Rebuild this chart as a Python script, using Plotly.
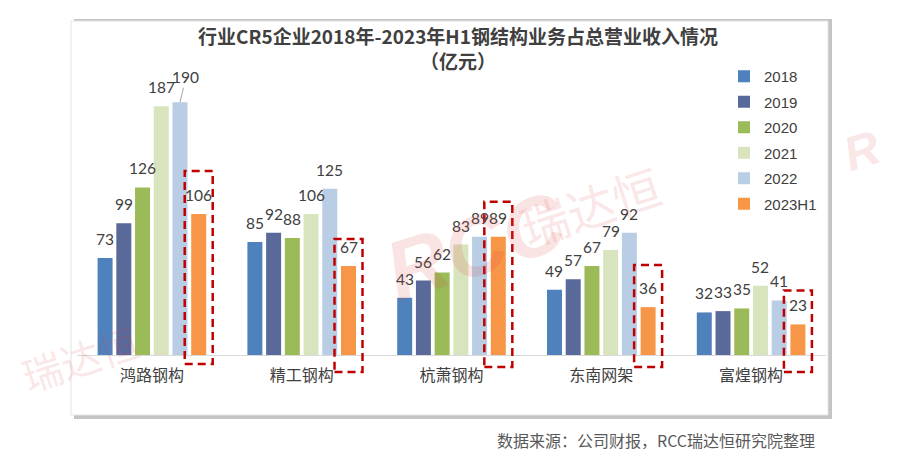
import plotly.graph_objects as go

# ---------------- data ----------------
categories = ["鸿路钢构", "精工钢构", "杭萧钢构", "东南网架", "富煌钢构"]
series_names = ["2018", "2019", "2020", "2021", "2022", "2023H1"]
values_2018 = [73, 85, 43, 49, 32]
values_2019 = [99, 92, 56, 57, 33]
values_2020 = [126, 88, 62, 67, 35]
values_2021 = [187, 106, 83, 79, 52]
values_2022 = [190, 125, 89, 92, 41]
values_2023h1 = [106, 67, 89, 36, 23]
series_values = [values_2018, values_2019, values_2020, values_2021, values_2022, values_2023h1]

title_text = "行业CR5企业2018年-2023年H1钢结构业务占总营业收入情况<br>（亿元）"
source_text = "数据来源：公司财报，RCC瑞达恒研究院整理"

# ---------------- style ----------------
colors = ["#4F81BD", "#58699A", "#9BBB59", "#D7E4BD", "#B9CDE5", "#F79646"]
TXT = "#404040"
CJK = "Noto Sans CJK SC"
NUM = "Lato"

W_PAGE, H_PAGE = 900, 460
L, R, T, B = 77, 74, 89, 105
PW = W_PAGE - L - R
PH = H_PAGE - T - B
YMAX = 200
BASE = H_PAGE - B
ppu = PH / YMAX

BARGAP, GROUPGAP = 0.25, 0.2
nser = len(series_names)
slot = (1 - BARGAP) / nser


def off(si):
    return -(1 - BARGAP) / 2 + slot * (si + 0.5)


def px_x(p):
    return (p - L) / PW


def px_y(p):
    return (BASE - p) / PH


fig = go.Figure()
for si, (name, vals) in enumerate(zip(series_names, series_values)):
    fig.add_trace(go.Bar(
        x=categories, y=vals, name=name, legendgroup=name,
        marker=dict(color=colors[si], line=dict(width=0)),
        hoverinfo="skip",
    ))

annotations = []
# value labels
for si, vals in enumerate(series_values):
    for ci, v in enumerate(vals):
        xpos = ci + off(si)
        if ci == 0 and si == 4:
            annotations.append(dict(
                x=xpos, y=v, xref="x", yref="y", text=str(v),
                showarrow=True, arrowhead=0, arrowwidth=1, arrowcolor="#A6A6A6",
                ax=6, ay=-25, standoff=0,
                font=dict(family=NUM, size=15.5, color=TXT)))
        else:
            annotations.append(dict(
                x=xpos, y=v, xref="x", yref="y", text=str(v),
                showarrow=False, yanchor="middle", yshift=19,
                font=dict(family=NUM, size=15.5, color=TXT)))

# source
annotations.append(dict(
    x=px_x(817), y=px_y(440), xref="paper", yref="paper", xanchor="right", yanchor="middle",
    text=source_text, showarrow=False, font=dict(family=CJK, size=16, color="#595959")))

# watermarks
wm = "rgba(222,70,70,0.15)"
for (cx, cy, txt, sz, fam) in [(476, 246, "<b><i>RCC</i></b>", 84, "Liberation Sans"),
                               (590, 205, "瑞达恒", 48, CJK),
                               (80, 358, "瑞达恒", 40, CJK),
                               (862, 150, "<b><i>R</i></b>", 48, "Liberation Sans")]:
    annotations.append(dict(
        x=px_x(cx), y=px_y(cy), xref="paper", yref="paper", text=txt, showarrow=False,
        textangle=-18, font=dict(family=fam, size=sz, color=wm), xanchor="center", yanchor="middle"))

shapes = []
# chart frame with shadow
shapes.append(dict(type="rect", xref="paper", yref="paper", layer="below",
                   x0=px_x(74), x1=px_x(832), y0=px_y(19), y1=px_y(419),
                   fillcolor="#C4C4C4", line=dict(width=0)))
shapes.append(dict(type="rect", xref="paper", yref="paper", layer="below",
                   x0=px_x(71), x1=px_x(828), y0=px_y(21), y1=px_y(415),
                   fillcolor="white", line=dict(color="#E4E4E4", width=1)))

# red dashed highlight boxes around 2023H1 bars
box_top_pad = [43, 27, 35, 42, 34]
box_bottom_pad = [9, 17, 12, 12, 17]
half_w = 14 / PW * len(categories)
for ci, v in enumerate(values_2023h1):
    xc = ci + off(nser - 1)
    shapes.append(dict(type="rect", xref="x", yref="paper", layer="above",
                       x0=xc - half_w, x1=xc + half_w,
                       y0=-box_bottom_pad[ci] / PH, y1=(v * ppu + box_top_pad[ci]) / PH,
                       line=dict(color="#C00000", width=2.5, dash="8px,5px"),
                       fillcolor="rgba(0,0,0,0)"))

fig.update_layout(
    width=W_PAGE, height=H_PAGE, autosize=False,
    margin=dict(l=L, r=R, t=T, b=B, pad=0),
    paper_bgcolor="white", plot_bgcolor="rgba(0,0,0,0)",
    barmode="group", bargap=BARGAP, bargroupgap=GROUPGAP,
    title=dict(text=title_text, xref="container", yref="container",
               x=458 / W_PAGE, xanchor="center", y=1 - 44 / H_PAGE, yanchor="middle",
               font=dict(family=CJK, size=19, color=TXT, weight="bold")),
    xaxis=dict(type="category", range=[-0.5, len(categories) - 0.5], showline=True,
               linecolor="#D9D9D9", linewidth=1, ticks="", showgrid=False, zeroline=False,
               tickfont=dict(family=CJK, size=16, color=TXT), ticklabelstandoff=6,
               fixedrange=True),
    yaxis=dict(range=[0, YMAX], visible=False, showgrid=False, zeroline=False, fixedrange=True),
    legend=dict(x=px_x(724), y=px_y(60), xanchor="left", yanchor="top",
                bgcolor="rgba(0,0,0,0)", borderwidth=0, tracegroupgap=3, itemwidth=30,
                font=dict(family="Liberation Sans", size=15, color=TXT)),
    annotations=annotations, shapes=shapes, showlegend=True,
)

fig.write_html("out.html")
